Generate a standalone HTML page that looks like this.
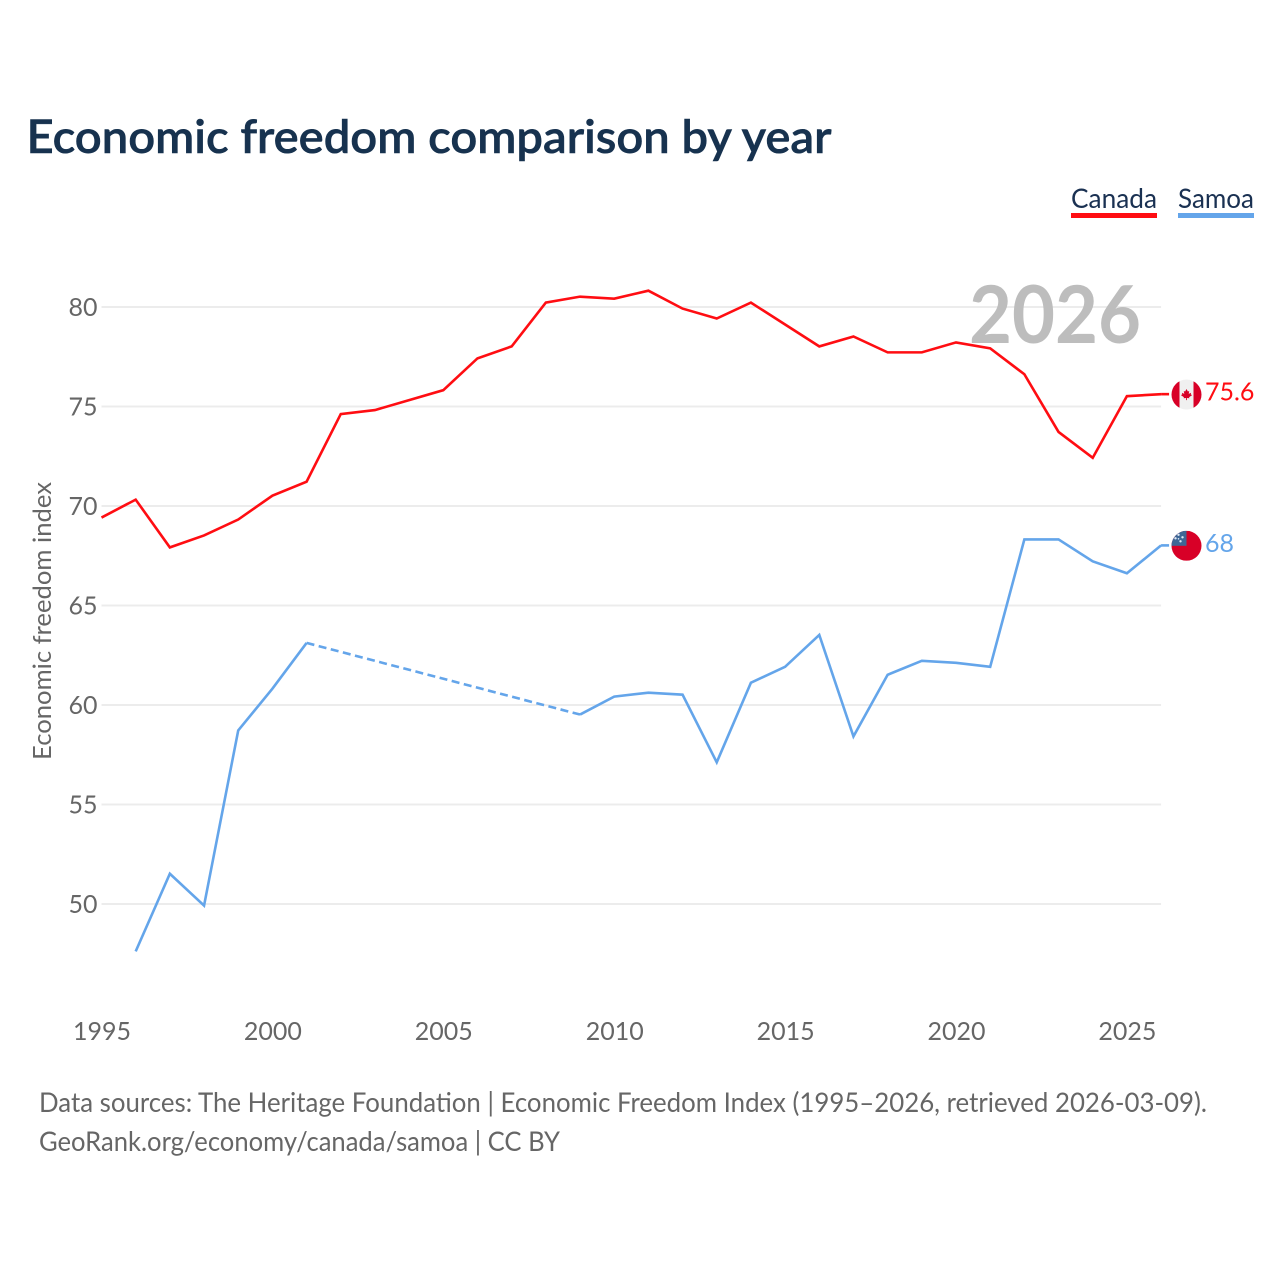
<!DOCTYPE html>
<html lang="en">
<head>
<meta charset="utf-8">
<title>Economic freedom comparison by year</title>
<style>
html,body{margin:0;padding:0;background:#fff;width:1280px;height:1280px;overflow:hidden}
svg{display:block}
text{font-family:"Lato","Carlito","Liberation Sans",sans-serif}
</style>
</head>
<body>
<svg id="chart" xmlns="http://www.w3.org/2000/svg" width="1280" height="1280" viewBox="0 0 1280 1280">
  <defs>
    <clipPath id="flag-clip-ca"><circle cx="0" cy="0" r="15"/></clipPath>
    <clipPath id="flag-clip-ws"><circle cx="0" cy="0" r="15"/></clipPath>
  </defs>
  <text x="26.5" y="153" font-size="46" font-weight="600" fill="#17324f" stroke="#17324f" stroke-width="0.6" textLength="805" lengthAdjust="spacingAndGlyphs">Economic freedom comparison by year</text>

  <g>
    <g>
      <text x="1071" y="208" font-size="27" fill="#1a3152" textLength="86" lengthAdjust="spacingAndGlyphs">Canada</text>
      <rect x="1071" y="213" width="86" height="5" fill="#ff0d12"/>
    </g>
    <g>
      <text x="1178" y="208" font-size="27" fill="#1a3152" textLength="76" lengthAdjust="spacingAndGlyphs">Samoa</text>
      <rect x="1178" y="213" width="76" height="5" fill="#64a5ea"/>
    </g>
  </g>

  <g id="grid"></g>
  <g id="yticks"></g>
  <g id="xticks"></g>

  <text x="1141" y="343" text-anchor="end" font-size="80" font-weight="700" fill="#bdbdbd" textLength="172" lengthAdjust="spacingAndGlyphs">2026</text>

  <text transform="translate(51 621) rotate(-90)" text-anchor="middle" font-size="25.5" fill="#666" textLength="278" lengthAdjust="spacingAndGlyphs">Economic freedom index</text>

  <g id="series" transform="translate(0 -0.4)"></g>

  <g id="flag-ca">
    <g clip-path="url(#flag-clip-ca)">
      <rect x="-15" y="-15" width="30" height="30" fill="#f0f0f0"/>
      <rect x="-15" y="-15" width="8" height="30" fill="#d80027"/>
      <rect x="7" y="-15" width="8" height="30" fill="#d80027"/>
      <path transform="scale(0.85)" d="M0-6.5 1.6-3.6 3.2-4.2 2.6-0.8 5.4-2.2 5-0.2 6.6 0.6 3 3.2 3.4 4.4 0.5 4 0.5 6.5-0.5 6.5-0.5 4-3.4 4.4-3 3.2-6.6 0.6-5-0.2-5.4-2.2-2.6-0.8-3.2-4.2-1.6-3.6Z" fill="#d80027"/>
    </g>
  </g>
  <g id="flag-ws">
    <g clip-path="url(#flag-clip-ws)">
      <rect x="-15" y="-15" width="30" height="30" fill="#d80027"/>
      <rect x="-15" y="-15" width="15" height="15" fill="#3f6796"/>
      <circle cx="-8" cy="-11" r="1.2" fill="#dfeaf5"/>
      <circle cx="-4" cy="-8.5" r="1.2" fill="#dfeaf5"/>
      <circle cx="-11" cy="-7.5" r="1.2" fill="#dfeaf5"/>
      <circle cx="-6" cy="-4.5" r="1.2" fill="#dfeaf5"/>
      <circle cx="-8" cy="-7" r="0.8" fill="#dfeaf5"/>
    </g>
  </g>
  <text id="value-ca" font-size="25" fill="#ff0d12"></text>
  <text id="value-ws" font-size="25" fill="#64a5ea"></text>

  <g>
    <text x="39" y="1112" font-size="27" fill="#666" textLength="1168" lengthAdjust="spacingAndGlyphs">Data sources: The Heritage Foundation | Economic Freedom Index (1995–2026, retrieved 2026-03-09).</text>
    <text x="39" y="1151" font-size="27" fill="#666" textLength="521" lengthAdjust="spacingAndGlyphs">GeoRank.org/economy/canada/samoa | CC BY</text>
  </g>
</svg>
<script>
var years = [1995,1996,1997,1998,1999,2000,2001,2002,2003,2004,2005,2006,2007,2008,2009,2010,2011,2012,2013,2014,2015,2016,2017,2018,2019,2020,2021,2022,2023,2024,2025,2026];
var canadaValues = [69.4,70.3,67.9,68.5,69.3,70.5,71.2,74.6,74.8,75.3,75.8,77.4,78.0,80.2,80.5,80.4,80.8,79.9,79.4,80.2,79.1,78.0,78.5,77.7,77.7,78.2,77.9,76.6,73.7,72.4,75.5,75.6];
var samoaValues = [null,47.6,51.5,49.9,58.7,60.8,63.1,null,null,null,null,null,null,null,59.5,60.4,60.6,60.5,57.1,61.1,61.9,63.5,58.4,61.5,62.2,62.1,61.9,68.3,68.3,67.2,66.6,68.0];
var yTickValues = [50,55,60,65,70,75,80];
var xTickValues = [1995,2000,2005,2010,2015,2020,2025];

var NS = 'http://www.w3.org/2000/svg';
function xScale(year){ return 101.5 + (year - 1995) * 34.18; }
function yScale(value){ return 904 - (value - 50) * 19.9; }
function make(tag, parent){
  var el = document.createElementNS(NS, tag);
  parent.appendChild(el);
  return el;
}

var gridGroup = document.getElementById('grid');
var yGroup = document.getElementById('yticks');
yTickValues.forEach(function(v){
  var line = make('line', gridGroup);
  
  
  line.setAttribute('x1', xScale(1995));
  line.setAttribute('x2', xScale(2026));
  line.setAttribute('y1', yScale(v));
  line.setAttribute('y2', yScale(v));
  line.setAttribute('stroke', '#ececec');
  line.setAttribute('stroke-width', '2');
  var label = make('text', yGroup);
  
  
  label.setAttribute('x', 97.5);
  label.setAttribute('y', yScale(v) + 9);
  label.setAttribute('text-anchor', 'end');
  label.setAttribute('font-size', '25');
  label.setAttribute('fill', '#666');
  label.textContent = v;
});

var xGroup = document.getElementById('xticks');
xTickValues.forEach(function(y){
  var label = make('text', xGroup);
  
  
  label.setAttribute('x', xScale(y) + 0.5);
  label.setAttribute('y', 1040);
  label.setAttribute('text-anchor', 'middle');
  label.setAttribute('font-size', '25');
  label.setAttribute('fill', '#666');
  label.textContent = y;
});

function segments(values){
  var solid = [], dashed = [], current = [], last = null;
  values.forEach(function(v, i){
    if (v === null) {
      if (current.length) { solid.push(current); current = []; }
      return;
    }
    var pt = [xScale(years[i]), yScale(v)];
    if (last && last.index !== i - 1) { dashed.push([last.pt, pt]); }
    current.push(pt);
    last = { index: i, pt: pt };
  });
  if (current.length) solid.push(current);
  return { solid: solid, dashed: dashed };
}
function pathD(points){
  return points.map(function(p, i){ return (i ? 'L' : 'M') + p[0].toFixed(2) + ' ' + p[1].toFixed(2); }).join('');
}

var seriesGroup = document.getElementById('series');
function drawSeries(name, values, color){
  var parts = segments(values);
  var g = make('g', seriesGroup);
  
  
  parts.solid.forEach(function(points){
    var p = make('path', g);
    
    
    p.setAttribute('d', pathD(points));
    p.setAttribute('fill', 'none');
    p.setAttribute('stroke', color);
    p.setAttribute('stroke-width', '2.6');
    p.setAttribute('stroke-linejoin', 'miter');
  });
  parts.dashed.forEach(function(points){
    var p = make('path', g);
    
    
    p.setAttribute('d', pathD(points));
    p.setAttribute('fill', 'none');
    p.setAttribute('stroke', color);
    p.setAttribute('stroke-width', '2.6');
    p.setAttribute('stroke-dasharray', '8 4.5');
  });
  var lastVal = values[values.length - 1];
  var lead = make('line', g);
  
  
  lead.setAttribute('x1', xScale(2026));
  lead.setAttribute('x2', xScale(2026) + 8);
  lead.setAttribute('y1', yScale(lastVal));
  lead.setAttribute('y2', yScale(lastVal));
  lead.setAttribute('stroke', color);
  lead.setAttribute('stroke-width', '2.6');
}
drawSeries('canada', canadaValues, '#ff0d12');
drawSeries('samoa', samoaValues, '#64a5ea');

function placeEnd(flagId, valueId, value){
  var y = yScale(value);
  document.getElementById(flagId).setAttribute('transform', 'translate(1186.5 ' + y + ')');
  var t = document.getElementById(valueId);
  t.setAttribute('x', 1205);
  t.setAttribute('y', y + 6);
  t.textContent = value;
}
placeEnd('flag-ca', 'value-ca', canadaValues[canadaValues.length - 1]);
placeEnd('flag-ws', 'value-ws', samoaValues[samoaValues.length - 1]);
</script>
</body>
</html>
